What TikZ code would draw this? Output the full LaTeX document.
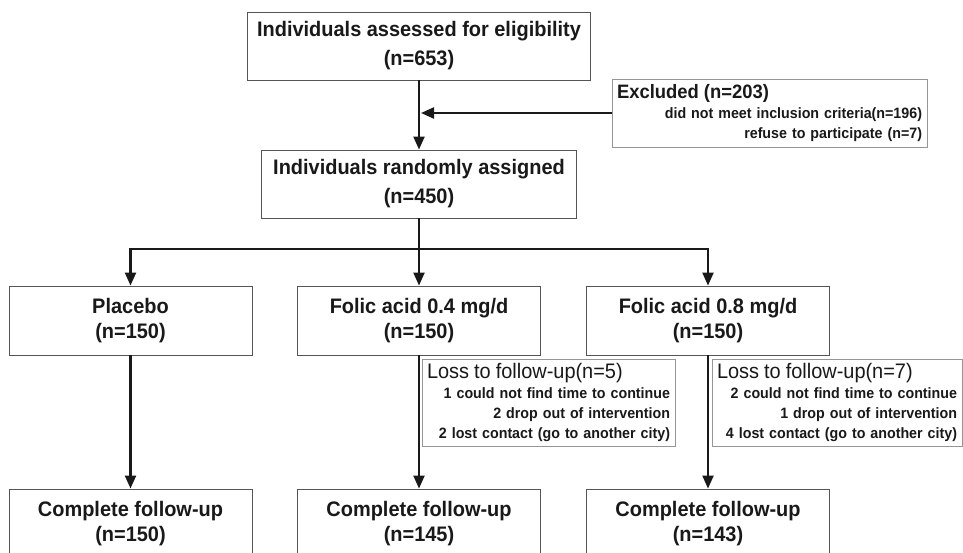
\documentclass[tikz,border=0pt]{standalone}
\usepackage{fontspec}
\setmainfont{Liberation Sans}[FakeStretch=0.95]
\usepackage{tikz}
\usetikzlibrary{arrows.meta,positioning,calc}
\definecolor{ink}{RGB}{25,25,25}
\definecolor{frame}{RGB}{85,85,85}
\definecolor{thin}{RGB}{150,150,150}
\tikzset{
  box/.style={draw=frame,line width=0.9pt,fill=white,inner sep=0pt,align=center,
    text=ink,font=\fontsize{21}{25}\selectfont\bfseries},
  tallbox/.style={box,font=\fontsize{21}{29}\selectfont\bfseries},
  note/.style={draw=thin,line width=0.8pt,fill=white,inner xsep=5pt,inner ysep=0pt,
    align=right,text=ink,font=\fontsize{15}{20}\selectfont\bfseries},
  arr/.style={-{Triangle[length=13pt,width=11pt]},line width=2.2pt,ink},
  bar/.style={line width=2.2pt,ink},
}
\newcommand{\head}[1]{\hbox to\hsize{#1\hfil}}

\begin{document}
\begin{tikzpicture}[x=1pt,y=-1pt]
\clip (0,0) rectangle (963,553);
\node[tallbox,minimum width=343pt,minimum height=68pt] (assess) at (419,46)
  {Individuals assessed for eligibility\\(n=653)};
\node[tallbox,minimum width=315pt,minimum height=68pt] (rand) at (419,184)
  {Individuals randomly assigned\\(n=450)};
\node[note,text width=305pt,minimum height=68pt] (excl) at (769.5,113)
  {\head{\fontsize{19.4}{20}\selectfont Excluded (n=203)}\\
   did not meet inclusion criteria(n=196)\\
   refuse to participate (n=7)};
% the three arms
\foreach \i/\x/\lab/\m/\k in {1/130.5/Placebo/150/150,
    2/419/{Folic acid 0.4 mg/d}/150/145,3/708/{Folic acid 0.8 mg/d}/150/143}{
  \node[box,minimum width=243pt,minimum height=69pt] (arm\i) at (\x,320.5) {\lab\\(n=\m)};
  \node[box,minimum width=243pt,minimum height=69pt] (comp\i) at (\x,523.5)
    {Complete follow-up\\(n=\k)};}
\node[note,text width=243pt,minimum height=87pt] (loss1) at (548.5,402.5)
  {\head{\fontsize{21}{20}\mdseries\selectfont Loss to follow-up(n=5)}\\
   1 could not find time to continue\\
   2 drop out of intervention\\
   2 lost contact (go to another city)};
\node[note,text width=240pt,minimum height=87pt] (loss2) at (837,402.5)
  {\head{\fontsize{21}{20}\mdseries\selectfont Loss to follow-up(n=7)}\\
   2 could not find time to continue\\
   1 drop out of intervention\\
   4 lost contact (go to another city)};
\coordinate (join) at (excl.west -| assess.south);
\coordinate (split) at (419,249);
\draw[arr] (assess) -- (rand);
\draw[arr,shorten >=2pt] (excl.west) -- (join);
\draw[bar] (rand.south) -- (split);
\foreach \i in {1,2,3}{
  \draw[arr] (split) -| (arm\i.north);
  \draw[arr] (arm\i.south) -- (comp\i.north);}
\end{tikzpicture}
\end{document}
